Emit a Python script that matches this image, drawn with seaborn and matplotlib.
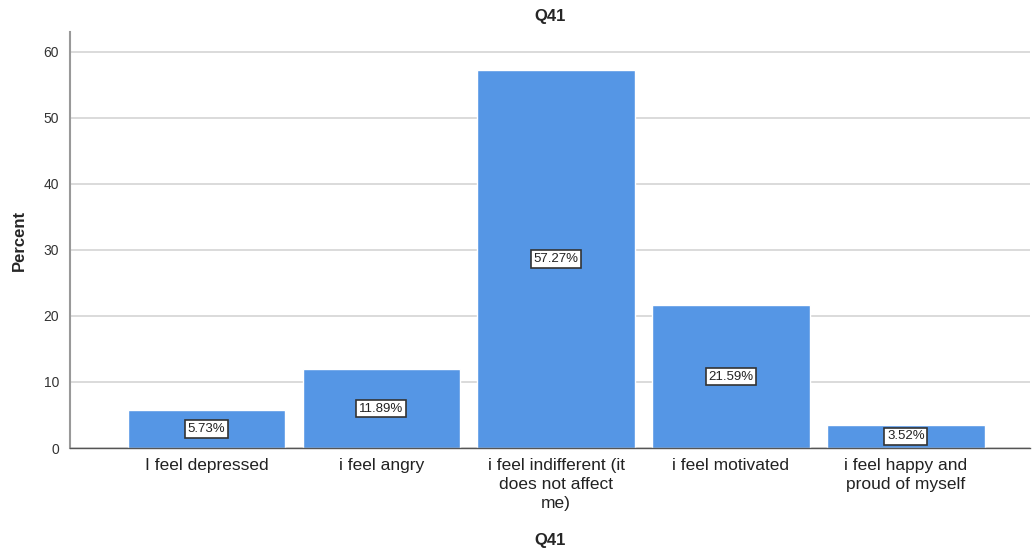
import matplotlib
matplotlib.use("Agg")
import matplotlib.pyplot as plt
import seaborn as sns
import pandas as pd

categories = ["I feel depressed", "i feel angry", "i feel indifferent (it\ndoes not affect\nme)",
              "i feel motivated", "i feel happy and\nproud of myself"]
percent = [5.73, 11.89, 57.27, 21.59, 3.52]
yticks = [0, 10, 20, 30, 40, 50, 60]

df = pd.DataFrame({"Q41": categories, "Percent": percent})

sns.set_style("white")
plt.rcParams["font.family"] = ["Liberation Sans", "DejaVu Sans"]

fig = plt.figure(figsize=(10.36, 5.49), dpi=100)
ax = fig.add_axes([70/1036, 1-448/549, 960/1036, 416/549])

ax.yaxis.grid(True, color="#d4d4d4", linewidth=1.2)
ax.set_axisbelow(True)
sns.barplot(x="Q41", y="Percent", data=df, color="#5596e5", width=0.9,
            saturation=1, ax=ax, zorder=2)

for i, v in enumerate(percent):
    ax.text(i, v / 2, f"{v:.2f}%", ha="center", va="center", fontsize=9.5,
            color="#222222", zorder=3,
            bbox=dict(boxstyle="square,pad=0.2", fc="white", ec="#333333", lw=1.2))

ax.set_xlim(-0.78, 4.71)
ax.set_ylim(0, 63)
ax.set_yticks(yticks)
ax.tick_params(axis="y", labelsize=10, labelcolor="#333333", length=0, pad=8)
ax.tick_params(axis="x", labelsize=12.5, labelcolor="#222222", length=0, pad=7)
for lab in ax.get_xticklabels():
    lab.set_linespacing(1.35)

for s in ["top", "right"]:
    ax.spines[s].set_visible(False)
ax.spines["left"].set_color("#999999")
ax.spines["left"].set_linewidth(1.5)
ax.spines["bottom"].set_color("#555555")
ax.spines["bottom"].set_linewidth(1)

ax.set_title("Q41", fontsize=12, fontweight="bold", pad=8)
ax.set_xlabel("Q41", fontsize=12, fontweight="bold")
ax.set_ylabel("Percent", fontsize=12, fontweight="bold", labelpad=12)
ax.xaxis.set_label_coords(0.5, -0.205)

fig.savefig("out.png", dpi=100)
